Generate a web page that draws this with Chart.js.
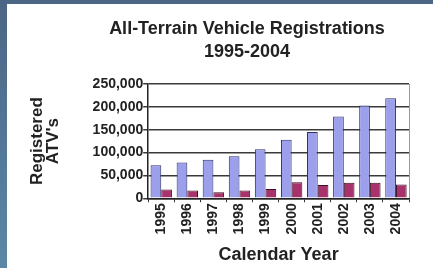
<!DOCTYPE html>
<html>
<head>
<meta charset="utf-8">
<script src="https://cdn.jsdelivr.net/npm/chart.js@4.4.1/dist/chart.umd.min.js"></script>
<style>
  html, body { margin: 0; padding: 0; }
  body {
    width: 433px; height: 268px; overflow: hidden; position: relative;
    background: linear-gradient(180deg, #4b6585 0%, #5a88a4 100%);
  }
  #sheet { position: absolute; left: 7px; top: 4px; width: 426px; height: 264px; background: #fff; }
  #sheet canvas { position: absolute; left: 0; top: 0; }
  #title {
    position: absolute; left: 40px; top: 13px; width: 400px; text-align: center;
    font: bold 18px "Liberation Sans", Arial, sans-serif; line-height: 23px; color: #222;
  }
</style>
</head>
<body>
<div id="sheet">
  <canvas id="atv-chart" width="426" height="264"></canvas>
  <div id="title">All-Terrain Vehicle Registrations<br>1995-2004</div>
</div>
<script>
// ATV registrations
const years = ['1995', '1996', '1997', '1998', '1999', '2000', '2001', '2002', '2003', '2004'];
const totalRegs = [72000, 78000, 84000, 92000, 107000, 128000, 145000, 179000, 203000, 219000];
const secondRegs = [19000, 17000, 13000, 17000, 20000, 35000, 29000, 34000, 34000, 30000];
const yTicks = [0, 50000, 100000, 150000, 200000, 250000];

const FONT = '"Liberation Sans", Arial, sans-serif';
const INK = '#222';

new Chart(document.getElementById('atv-chart'), {
  type: 'bar',
  data: {
    labels: years,
    datasets: [
      {
        label: 'Registered ATVs',
        data: totalRegs,
        backgroundColor: '#9c9fec',
        borderColor: '#2c2f66',
        borderWidth: 1,
        categoryPercentage: 0.82,
        barPercentage: 1.0,
      },
      {
        label: 'Series 2',
        data: secondRegs,
        backgroundColor: '#a8336c',
        borderColor: '#3a1024',
        borderWidth: 1,
        categoryPercentage: 0.82,
        barPercentage: 1.0,
      }
    ]
  },
  options: {
    responsive: false,
    animation: false,
    layout: { padding: { top: 80, left: 23, right: 24, bottom: 2 } },
    plugins: {
      legend: { display: false },
      tooltip: { enabled: false },
      title: { display: false }
    },
    scales: {
      x: {
        offset: true,
        grid: {
          offset: true, drawTicks: true, tickLength: 4, tickColor: '#333',
          // only the closing line on the right edge shows as the plot border
          color: (ctx) => ctx.type === 'tick' ? 'rgba(0,0,0,0)' : '#999'
        },
        border: { color: '#222', width: 1.5 },
        ticks: {
          color: INK, font: { family: FONT, size: 14, weight: 'bold' },
          minRotation: 90, maxRotation: 90, padding: 1, autoSkip: false
        },
        title: {
          display: true, text: 'Calendar Year', color: INK,
          font: { family: FONT, size: 18, weight: 'bold' }, padding: { top: 9, bottom: 0 }
        }
      },
      y: {
        min: 0,
        max: 250000,
        afterBuildTicks: (scale) => { scale.ticks = yTicks.map(v => ({ value: v })); },
        grid: { color: '#3a3a3a', lineWidth: 1.5, tickLength: 5 },
        border: { color: '#222', width: 1.5 },
        ticks: {
          color: INK, font: { family: FONT, size: 14, weight: 'bold' }, padding: 0,
          callback: (v) => v.toLocaleString('en-US')
        },
        title: {
          display: true, text: ['Registered', "ATV's"], color: INK,
          font: { family: FONT, size: 17, weight: 'bold', lineHeight: 0.9 },
          padding: { top: 0, bottom: 32 }
        }
      }
    }
  }
});
</script>
</body>
</html>
